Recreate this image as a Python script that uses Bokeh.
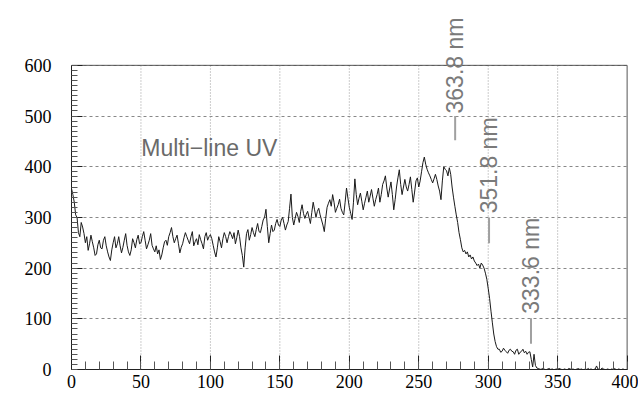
from math import pi
from bokeh.plotting import figure
from bokeh.models import SingleIntervalTicker, Label, Range1d
from bokeh.embed import file_html
from bokeh.resources import INLINE

# ---- data ----
counts = [
    357, 345, 330, 305, 300, 270, 262, 290, 281, 268,
    250, 262, 235, 248, 265, 252, 240, 225, 228, 246,
    255, 240, 238, 255, 262, 244, 232, 222, 215, 236,
    250, 262, 240, 248, 262, 244, 230, 241, 255, 268,
    245, 232, 225, 236, 258, 250, 240, 256, 265, 248,
    250, 262, 272, 255, 238, 246, 255, 268, 245, 238,
    232, 244, 228, 236, 217, 226, 240, 252, 255, 245,
    262, 270, 280, 262, 250, 258, 265, 248, 230, 241,
    248, 260, 270, 262, 255, 248, 262, 272, 244, 252,
    258, 246, 266, 256, 248, 238, 262, 270, 255, 262,
    266, 258, 245, 232, 222, 240, 262, 252, 240, 258,
    270, 262, 250, 262, 272, 266, 258, 270, 248, 260,
    275, 262, 240, 225, 202, 240, 268, 276, 255, 266,
    280, 270, 262, 276, 288, 272, 270, 282, 295, 300,
    316, 282, 250, 268, 285, 272, 275, 288, 296, 285,
    282, 295, 300, 288, 275, 285, 292, 318, 346, 300,
    285, 298, 310, 302, 290, 312, 325, 308, 298, 306,
    312, 300, 288, 310, 330, 315, 300, 312, 318, 305,
    295, 285, 272, 298, 320, 328, 335, 322, 345, 330,
    310, 318, 325, 336, 318, 310, 305, 330, 358, 338,
    320, 308, 296, 330, 376, 345, 325, 338, 348, 332,
    315, 328, 340, 352, 330, 342, 355, 338, 322, 335,
    345, 358, 330, 345, 365, 372, 382, 358, 340, 356,
    370, 345, 315, 335, 360, 378, 394, 365, 345, 360,
    375, 360, 352, 365, 380, 355, 330, 350, 372, 378,
    360, 372, 390, 408, 419, 405, 395, 388, 382, 375,
    368, 376, 385, 375, 362, 352, 335, 372, 400, 395,
    392, 382, 398, 385, 360, 340, 322, 305, 290, 270,
    256, 240, 232, 235, 228, 232, 222, 226, 218, 222,
    214, 210, 205, 208, 200, 210, 206, 200, 190, 178,
    160, 140, 115, 92, 70, 55, 45, 40, 40, 34,
    36, 42, 38, 35, 32, 38, 40, 36, 35, 30,
    38, 40, 30, 34, 36, 40, 33, 36, 30, 34,
    35, 20, 5, 30, 8, 3, 2, 1, 0, 2,
    1, 0, 0, 1, 2, 0, 1, 0, 0, 1,
    0, 2, 1, 0, 0, 1, 0, 0, 2, 1,
    0, 1, 0, 0, 1, 2, 0, 1, 0, 0,
    1, 0, 2, 0, 1, 0, 0, 1, 7, 1,
    0, 0, 3, 1, 0, 0, 1, 0, 0, 1,
    0, 2, 0, 0, 1, 0, 0, 1, 0, 0,
    0,
]
channel = list(range(0, 401))
assert len(channel) == len(counts)

x_ticks_interval = 50
y_ticks_interval = 100
x_limits = (0, 400)
y_limits = (0, 600)
x_grid_positions = [50, 100, 150, 200, 250, 300, 350]

title_text = "Multi\u2212line UV"
title_pos = (50.2, 436)

line_labels = ["363.8 nm", "351.8 nm", "333.6 nm"]
line_label_x = [276.2, 300.6, 330.8]
line_label_y = [505, 308, 110]
marker_y0 = [500, 300, 101]
marker_y1 = [452, 249, 51]

# ---- figure ----
# the frame is extended above y=600 so the rotated labels are not clipped;
# axis, ticks, grid and border are bounded to the 0..600 / 0..400 box.
p = figure(
    frame_width=557, frame_height=365,
    min_border_left=71, min_border_top=4, min_border_right=10, min_border_bottom=24,
    x_range=Range1d(0, 401), y_range=Range1d(0, 720),
    output_backend="svg", toolbar_location=None,
)
p.background_fill_color = "white"
p.border_fill_color = "white"
p.outline_line_color = None

p.xaxis.ticker = SingleIntervalTicker(interval=x_ticks_interval, num_minor_ticks=5)
p.yaxis.ticker = SingleIntervalTicker(interval=y_ticks_interval, num_minor_ticks=10)
p.xaxis.bounds = x_limits
p.yaxis.bounds = y_limits

for ax in (p.xaxis, p.yaxis):
    ax.axis_line_color = "#222222"
    ax.major_tick_line_color = "#222222"
    ax.minor_tick_line_color = "#555555"
    ax.major_tick_out = 0
    ax.minor_tick_out = 0
    ax.major_label_text_font = "Liberation Serif"
    ax.major_label_text_font_size = "18px"
    ax.major_label_text_color = "#000000"

p.xaxis.major_label_text_align = "right"
p.xaxis.major_tick_in = 14
p.xaxis.minor_tick_in = 8
p.yaxis.major_tick_in = 11
p.yaxis.minor_tick_in = 6
p.xaxis.major_label_standoff = 5
p.yaxis.major_label_standoff = 20

p.xgrid.visible = False
p.ygrid.grid_line_color = "#888888"
p.ygrid.grid_line_dash = "3 3"

# vertical grid lines, bounded to the data box
p.segment(x0=x_grid_positions, y0=[y_limits[0]] * len(x_grid_positions),
          x1=x_grid_positions, y1=[y_limits[1]] * len(x_grid_positions),
          line_color="#999999", line_dash="1 2", line_width=1)

# top and right border of the box
p.segment(x0=[x_limits[0], x_limits[1]], y0=[y_limits[1], y_limits[0]],
          x1=[x_limits[1], x_limits[1]], y1=[y_limits[1], y_limits[1]],
          line_color="#555555", line_width=1)

p.line(channel, counts, line_color="#1a1a1a", line_width=1)

p.segment(x0=line_label_x, y0=marker_y0, x1=line_label_x, y1=marker_y1,
          line_color="#a0a0a0", line_width=2)

for t, lx, ly in zip(line_labels, line_label_x, line_label_y):
    p.add_layout(Label(x=lx, y=ly, text=t, angle=pi / 2,
                       text_align="left", text_baseline="alphabetic",
                       text_font="Liberation Sans", text_font_size="23px",
                       text_color="#7a7a7a"))

p.add_layout(Label(x=title_pos[0], y=title_pos[1], text=title_text,
                   text_align="left", text_baseline="alphabetic",
                   text_font="Liberation Sans", text_font_size="23px",
                   text_color="#6a6a6a"))

open("out.html", "w").write(file_html(p, INLINE))
